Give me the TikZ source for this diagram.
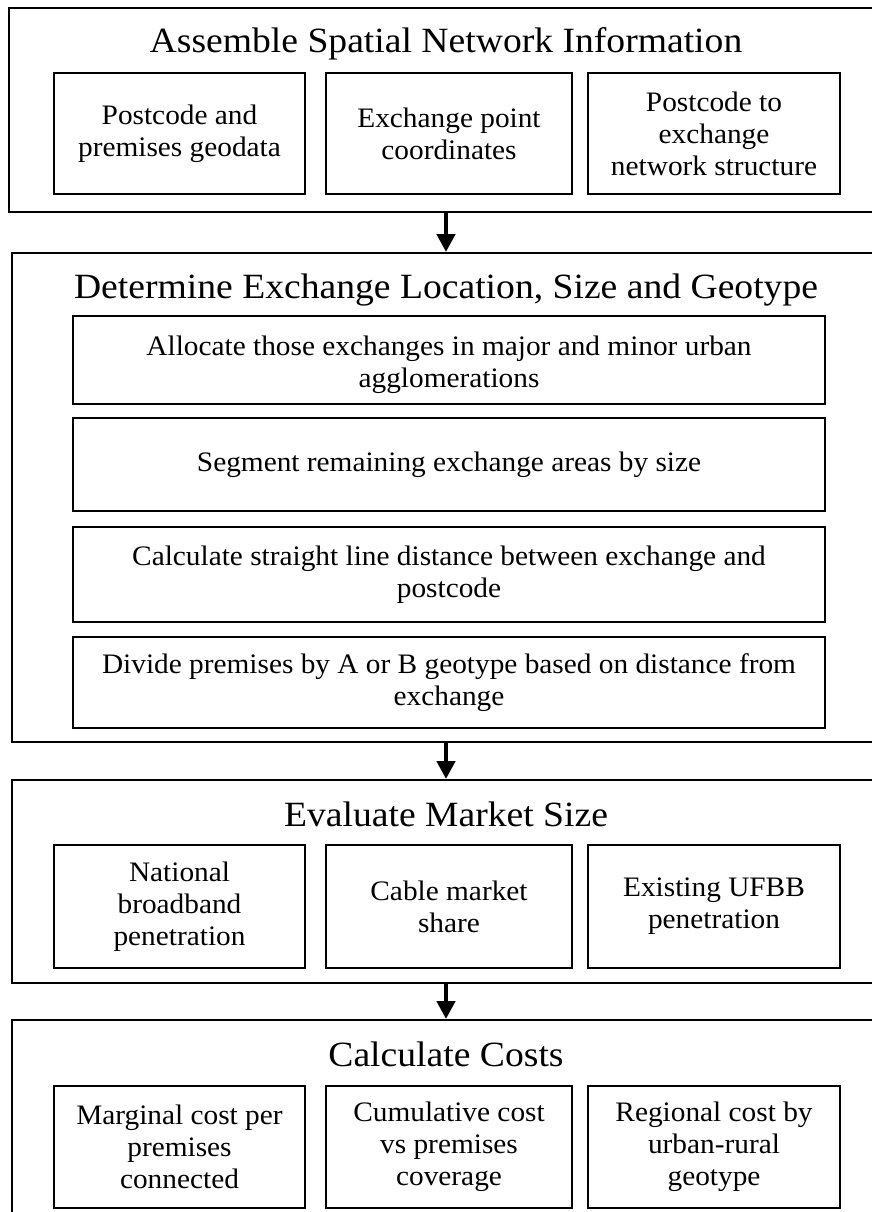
\documentclass[tikz,border=0pt]{standalone}
\usepackage{fontspec}
\setmainfont{Liberation Serif}
\newfontfamily\titlefont[FakeStretch=1.06]{Liberation Serif}
\newfontfamily\bodyfont[FakeStretch=1.04]{Liberation Serif}
\usetikzlibrary{arrows.meta}
\tikzset{
  outerbox/.style={draw, line width=2pt, inner sep=0pt, anchor=center},
  innerbox/.style={draw, line width=1.3pt, inner sep=0pt, align=center, anchor=center,
    font=\bodyfont\fontsize{28.2pt}{32pt}\selectfont},
  titletext/.style={inner sep=0pt, anchor=base, font=\titlefont\fontsize{35.5pt}{40pt}\selectfont},
  flowarrow/.style={line width=4.5pt, -{Triangle[width=18pt,length=18pt]}}
}
\begin{document}
\begin{tikzpicture}[x=1pt,y=-1pt]
\useasboundingbox (0,0) rectangle (872,1212);
\clip (0,0) rectangle (872,1212);
% Section 1
\node[outerbox, minimum width=874pt, minimum height=204pt] (b1) at (446,110) {};
\node[titletext] (h1) at (446,53) {Assemble Spatial Network Information};
\node[innerbox, minimum width=251pt, minimum height=121pt] (a1) at (179.5,133.5) {Postcode and\\premises geodata};
\node[innerbox, minimum width=246pt, minimum height=121pt] (a2) at (449,133.5) {Exchange point\\coordinates};
\node[innerbox, minimum width=252pt, minimum height=121pt] (a3) at (714,133.5) {Postcode to\\exchange\\network structure};
% Section 2
\node[outerbox, minimum width=868pt, minimum height=489pt] (b2) at (446,497.5) {};
\node[titletext] (h2) at (446,298) {Determine Exchange Location, Size and Geotype};
\node[innerbox, minimum width=752pt, minimum height=88pt] (d1) at (449,360) {\rule{0pt}{30pt}Allocate those exchanges in major and minor urban\\agglomerations};
\node[innerbox, minimum width=752pt, minimum height=93pt] (d2) at (449,464.5) {Segment remaining exchange areas by size};
\node[innerbox, minimum width=752pt, minimum height=95pt] (d3) at (449,574.5) {Calculate straight line distance between exchange and\\postcode};
\node[innerbox, minimum width=752pt, minimum height=91pt] (d4) at (449,682.5) {Divide premises by A or B geotype based on distance from\\exchange};
% Section 3
\node[outerbox, minimum width=868pt, minimum height=203pt] (b3) at (446,881.5) {};
\node[titletext] (h3) at (446,826) {Evaluate Market Size};
\node[innerbox, minimum width=251pt, minimum height=123pt] (m1) at (179.5,906.5) {National\\broadband\\penetration};
\node[innerbox, minimum width=246pt, minimum height=123pt] (m2) at (449,906.5) {Cable market\\share};
\node[innerbox, minimum width=252pt, minimum height=123pt] (m3) at (714,906.5) {Existing UFBB\\penetration};
% Section 4
\node[outerbox, minimum width=868pt, minimum height=240pt] (b4) at (446,1140) {};
\node[titletext] (h4) at (446,1066) {Calculate Costs};
\node[innerbox, minimum width=251pt, minimum height=122pt] (c1) at (179.5,1147) {Marginal cost per\\premises\\connected};
\node[innerbox, minimum width=246pt, minimum height=122pt] (c2) at (449,1147) {Cumulative cost\\vs premises\\coverage};
\node[innerbox, minimum width=252pt, minimum height=122pt] (c3) at (714,1147) {Regional cost by\\urban-rural\\geotype};
% Arrows
\draw[flowarrow] (b1.south) -- (b2.north);
\draw[flowarrow] (b2.south) -- (b3.north);
\draw[flowarrow] (b3.south) -- (b4.north);
\end{tikzpicture}
\end{document}
